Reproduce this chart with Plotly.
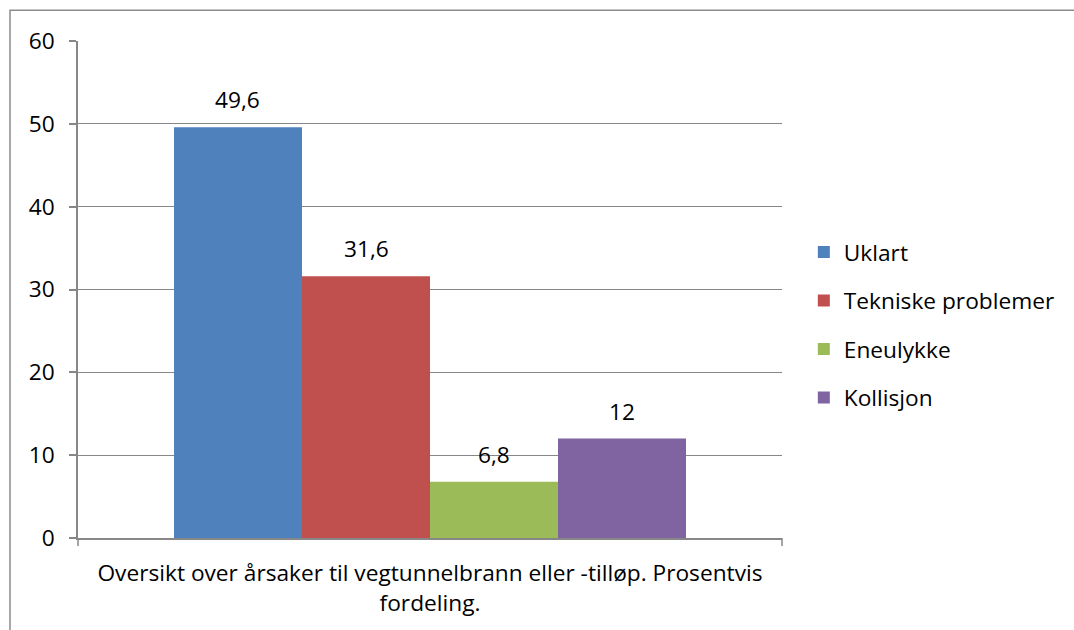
import plotly.graph_objects as go

category = ["Oversikt over årsaker til vegtunnelbrann eller -tilløp. Prosentvis<br>fordeling."]
series_names = ["Uklart", "Tekniske problemer", "Eneulykke", "Kollisjon"]
series_values = [49.6, 31.6, 6.8, 12]
series_colors = ["#4F81BD", "#C0504D", "#9BBB59", "#8064A2"]
y_ticks = [0, 10, 20, 30, 40, 50, 60]

FONT = "'Open Sans', sans-serif"
FS = 22.7
BARGAP = 0.2727

fig = go.Figure()
n = len(series_names)
annotations = []
for i, (name, val, col) in enumerate(zip(series_names, series_values, series_colors)):
    fig.add_trace(go.Bar(
        x=[0], y=[val], name=name,
        marker=dict(color=col, line=dict(width=0)),
        legendgroup=f"g{i}",
    ))
    # label centred over its own bar (bar offset within the group)
    annotations.append(dict(
        x=(i - (n - 1) / 2) * (1 - BARGAP) / n, y=val, xref="x", yref="y",
        text=f"{val:g}".replace(".", ","), showarrow=False,
        yanchor="bottom", yshift=10,
        font=dict(size=FS, family=FONT, color="#000000"),
    ))

fig.update_layout(
    width=1074, height=630,
    margin=dict(l=78, r=292, t=41, b=90),
    paper_bgcolor="white", plot_bgcolor="white",
    barmode="group", bargap=BARGAP, bargroupgap=0,
    font=dict(family=FONT, size=FS, color="#000000"),
    showlegend=True,
    legend=dict(
        x=1.031, xanchor="left", y=0.428, yanchor="middle",
        font=dict(size=FS, family=FONT, color="#000000"),
        traceorder="grouped", tracegroupgap=16,
        itemwidth=30, bgcolor="rgba(0,0,0,0)",
    ),
    xaxis=dict(
        range=[-0.5, 0.5],
        tickvals=[0], ticktext=category,
        showline=True, linecolor="#878787", linewidth=1.5,
        ticks="", showgrid=False, zeroline=False,
        tickfont=dict(size=FS, family=FONT),
        ticklabelstandoff=14,
    ),
    yaxis=dict(
        range=[0, 60], tickvals=y_ticks,
        showline=True, linecolor="#878787", linewidth=1.5,
        ticks="outside", ticklen=7, tickcolor="#878787", tickwidth=1.5,
        showgrid=True, gridcolor="#878787", gridwidth=1,
        zeroline=False,
        tickfont=dict(size=FS, family=FONT),
        ticklabelstandoff=10,
    ),
    annotations=annotations,
    shapes=[
        dict(type="rect", xref="paper", yref="paper",
             x0=-0.0966, x1=1.6, y0=-0.4, y1=1.062,
             line=dict(color="#8c8c8c", width=1.5), fillcolor="rgba(0,0,0,0)", layer="below"),
        dict(type="line", xref="paper", yref="paper",
             x0=1, x1=1, y0=0, y1=-0.016,
             line=dict(color="#878787", width=1.5)),
        dict(type="line", xref="paper", yref="paper",
             x0=0, x1=0, y0=0, y1=-0.016,
             line=dict(color="#878787", width=1.5)),
    ],
)

fig.write_html(
    "out.html",
    config={"displayModeBar": False},
    post_script="document.body.style.margin='0';document.body.style.overflow='hidden';",
)
